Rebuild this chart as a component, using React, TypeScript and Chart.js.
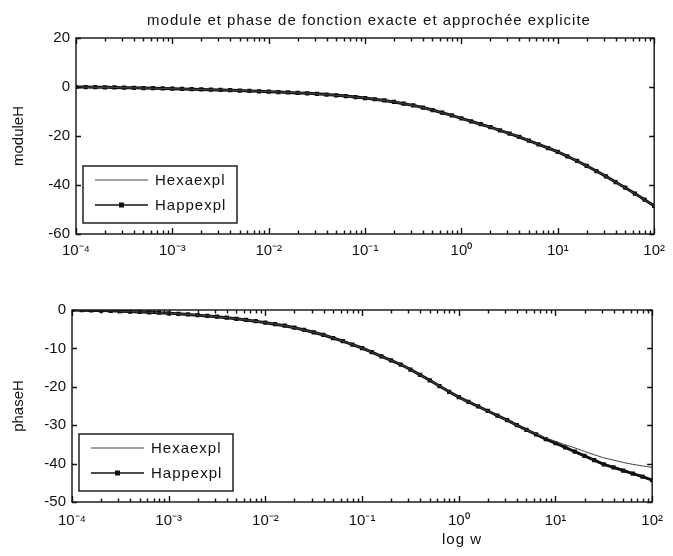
import { useEffect, useRef } from 'react';
import { Chart, registerables } from 'chart.js';

Chart.register(...registerables);

// Sampled pulsations, as log10(w)
const logW = [
  -4.0, -3.9, -3.8, -3.7, -3.6, -3.5, -3.4, -3.3, -3.2, -3.1,
  -3.0, -2.9, -2.8, -2.7, -2.6, -2.5, -2.4, -2.3, -2.2, -2.1,
  -2.0, -1.9, -1.8, -1.7, -1.6, -1.5, -1.4, -1.3, -1.2, -1.1,
  -1.0, -0.9, -0.8, -0.7, -0.6, -0.5, -0.4, -0.3, -0.2, -0.1,
  0.0, 0.1, 0.2, 0.3, 0.4, 0.5, 0.6, 0.7, 0.8, 0.9,
  1.0, 1.1, 1.2, 1.3, 1.4, 1.5, 1.6, 1.7, 1.8, 1.9, 2.0,
];

// Module (dB)
const moduleHexaexpl = [
  0.0, -0.05, -0.1, -0.15, -0.2, -0.3, -0.35, -0.45, -0.5, -0.6,
  -0.7, -0.8, -0.9, -1.0, -1.1, -1.2, -1.3, -1.45, -1.6, -1.75,
  -1.9, -2.05, -2.2, -2.4, -2.6, -2.8, -3.1, -3.4, -3.7, -4.1,
  -4.5, -5.0, -5.5, -6.1, -6.8, -7.5, -8.4, -9.4, -10.5, -11.6,
  -12.8, -14.0, -15.2, -16.4, -17.7, -19.0, -20.4, -21.9, -23.4, -24.9,
  -26.5, -28.3, -30.2, -32.2, -34.3, -36.5, -38.8, -41.1, -43.5, -46.0, -48.5,
];
const moduleHappexpl = [
  0.0, -0.05, -0.1, -0.15, -0.2, -0.3, -0.35, -0.45, -0.5, -0.6,
  -0.7, -0.8, -0.9, -1.0, -1.1, -1.2, -1.3, -1.45, -1.6, -1.75,
  -1.9, -2.05, -2.2, -2.4, -2.6, -2.8, -3.1, -3.4, -3.7, -4.1,
  -4.5, -5.0, -5.5, -6.1, -6.8, -7.5, -8.4, -9.4, -10.5, -11.6,
  -12.8, -14.0, -15.2, -16.4, -17.7, -19.0, -20.4, -21.9, -23.4, -24.9,
  -26.5, -28.3, -30.2, -32.2, -34.3, -36.5, -38.8, -41.1, -43.5, -46.0, -48.5,
];

// Phase (degrees)
const phaseHexaexpl = [
  0.0, -0.05, -0.1, -0.15, -0.2, -0.3, -0.4, -0.5, -0.6, -0.7,
  -0.85, -1.0, -1.15, -1.35, -1.55, -1.75, -2.0, -2.3, -2.6, -2.9,
  -3.3, -3.7, -4.1, -4.6, -5.2, -5.8, -6.5, -7.3, -8.1, -9.0,
  -9.9, -11.0, -12.1, -13.1, -14.2, -15.5, -16.9, -18.3, -19.8, -21.3,
  -22.7, -23.9, -25.1, -26.3, -27.5, -28.7, -30.0, -31.2, -32.3, -33.3,
  -34.2, -35.1, -35.9, -36.8, -37.7, -38.5, -39.1, -39.7, -40.2, -40.6, -41.0,
];
const phaseHappexpl = [
  0.0, -0.05, -0.1, -0.15, -0.2, -0.3, -0.4, -0.5, -0.6, -0.7,
  -0.85, -1.0, -1.15, -1.35, -1.55, -1.75, -2.0, -2.3, -2.6, -2.9,
  -3.3, -3.7, -4.1, -4.6, -5.2, -5.8, -6.5, -7.3, -8.1, -9.0,
  -9.9, -11.0, -12.1, -13.1, -14.2, -15.5, -16.9, -18.3, -19.8, -21.3,
  -22.7, -23.9, -25.1, -26.3, -27.5, -28.7, -30.0, -31.2, -32.4, -33.6,
  -34.7, -35.8, -36.9, -38.0, -39.1, -40.2, -41.0, -41.8, -42.6, -43.4, -44.3,
];

const decadeTicks = [1e-4, 1e-3, 1e-2, 1e-1, 1, 10, 100];
const decadeLabels = ['10⁻⁴', '10⁻³', '10⁻²', '10⁻¹', '10⁰', '10¹', '10²'];
const moduleTicks = [20, 0, -20, -40, -60];
const phaseTicks = [0, -10, -20, -30, -40, -50];

const seriesNames = ['Hexaexpl', 'Happexpl'];
const titleText = 'module et phase de fonction exacte et approchée explicite';

const FONT = "'Liberation Sans', Arial, sans-serif";
const INK = '#111';

type Label = { text: string; x: number; y: number };
type Panel = {
  hex: number[];
  happ: number[];
  yTicks: number[];
  yTitle: string;
  padTop: number;
  padRight: number;
  yWidth: number;
  xHeight: number;
  xLabelPad: number;
  labels: Label[];
};

const toPoints = (vals: number[]) => vals.map((v, i) => ({ x: Math.pow(10, logW[i]), y: v }));

// Axes frame with inward ticks on all four sides
const framePlugin = {
  id: 'frame',
  afterDatasetsDraw(chart: any) {
    const { ctx, chartArea: a, scales } = chart;
    const xs = scales.x;
    const ys = scales.y;
    ctx.save();
    ctx.strokeStyle = INK;
    ctx.lineWidth = 1.4;
    ctx.strokeRect(a.left, a.top, a.right - a.left, a.bottom - a.top);
    ctx.beginPath();
    decadeTicks.forEach((d, i) => {
      const marks: [number, number][] = [[d, 6]];
      if (i < decadeTicks.length - 1) {
        for (let k = 2; k <= 9; k++) marks.push([k * d, 3.5]);
      }
      marks.forEach(([v, len]) => {
        const px = Math.round(xs.getPixelForValue(v)) + 0.5;
        ctx.moveTo(px, a.bottom);
        ctx.lineTo(px, a.bottom - len);
        ctx.moveTo(px, a.top);
        ctx.lineTo(px, a.top + len);
      });
    });
    ys.ticks.forEach((t: any) => {
      const py = Math.round(ys.getPixelForValue(t.value)) + 0.5;
      ctx.moveTo(a.left, py);
      ctx.lineTo(a.left + 5, py);
      ctx.moveTo(a.right, py);
      ctx.lineTo(a.right - 5, py);
    });
    ctx.stroke();
    ctx.restore();
  },
};

// Boxed legend in the lower-left corner of the axes
const boxLegendPlugin = {
  id: 'boxLegend',
  afterDraw(chart: any) {
    const { ctx, chartArea: a } = chart;
    const left = a.left + 7;
    const top = a.bottom - 68;
    const w = 154;
    const h = 57;
    ctx.save();
    ctx.fillStyle = '#fff';
    ctx.fillRect(left, top, w, h);
    ctx.strokeStyle = INK;
    ctx.lineWidth = 1.4;
    ctx.strokeRect(left, top, w, h);
    ctx.font = `15px ${FONT}`;
    ctx.letterSpacing = '1px';
    ctx.textBaseline = 'middle';
    ctx.textAlign = 'left';
    chart.data.datasets.forEach((ds: any, i: number) => {
      const y = top + 14 + i * 25;
      ctx.strokeStyle = ds.borderColor;
      ctx.lineWidth = ds.label === seriesNames[0] ? 1 : 1.5;
      ctx.beginPath();
      ctx.moveTo(left + 12, y);
      ctx.lineTo(left + 65, y);
      ctx.stroke();
      if (ds.pointRadius > 0) {
        ctx.fillStyle = ds.pointBackgroundColor;
        ctx.fillRect(left + 38.5 - 2.5, y - 2.5, 5, 5);
      }
      ctx.fillStyle = INK;
      ctx.fillText(ds.label, left + 72, y + 1);
    });
    ctx.restore();
  },
};

// Free text: figure title and x label
const textPlugin = {
  id: 'freeText',
  afterDraw(chart: any, _args: any, opts: any) {
    const { ctx } = chart;
    ctx.save();
    ctx.fillStyle = INK;
    ctx.font = `15px ${FONT}`;
    ctx.letterSpacing = '1px';
    ctx.textAlign = 'center';
    ctx.textBaseline = 'middle';
    (opts.labels || []).forEach((l: Label) => ctx.fillText(l.text, l.x, l.y));
    ctx.restore();
  },
};

function buildConfig(p: Panel): any {
  return {
    type: 'line',
    data: {
      datasets: [
        {
          label: seriesNames[0],
          data: toPoints(p.hex),
          borderColor: '#444',
          borderWidth: 1,
          pointRadius: 0,
          tension: 0,
        },
        {
          label: seriesNames[1],
          data: toPoints(p.happ),
          borderColor: INK,
          borderWidth: 3,
          pointStyle: 'rect',
          pointRadius: 3,
          pointBorderWidth: 0,
          pointBackgroundColor: INK,
          pointBorderColor: INK,
          tension: 0,
        },
      ],
    },
    options: {
      responsive: false,
      animation: false,
      devicePixelRatio: 1,
      layout: { padding: { top: p.padTop, right: p.padRight, left: 0, bottom: 0 } },
      plugins: {
        legend: { display: false },
        tooltip: { enabled: false },
        freeText: { labels: p.labels },
      },
      scales: {
        x: {
          type: 'logarithmic',
          min: 1e-4,
          max: 1e2,
          grid: { display: false, drawTicks: false },
          border: { display: false },
          afterBuildTicks: (s: any) => {
            s.ticks = decadeTicks.map((v) => ({ value: v }));
          },
          afterFit: (s: any) => {
            s.height = p.xHeight;
          },
          ticks: {
            autoSkip: false,
            maxRotation: 0,
            padding: p.xLabelPad,
            color: INK,
            font: { family: FONT, size: 15 },
            callback: (_v: any, i: number) => decadeLabels[i],
          },
        },
        y: {
          min: p.yTicks[p.yTicks.length - 1],
          max: p.yTicks[0],
          grid: { display: false, drawTicks: false },
          border: { display: false },
          afterBuildTicks: (s: any) => {
            s.ticks = p.yTicks.map((v) => ({ value: v }));
          },
          afterFit: (s: any) => {
            s.width = p.yWidth;
          },
          ticks: {
            padding: 6,
            color: INK,
            font: { family: FONT, size: 15 },
          },
          title: {
            display: true,
            text: p.yTitle,
            color: INK,
            font: { family: FONT, size: 15 },
            padding: { top: 10, bottom: 0 },
          },
        },
      },
    },
    plugins: [framePlugin, boxLegendPlugin, textPlugin],
  };
}

const topPanel: Panel = {
  hex: moduleHexaexpl,
  happ: moduleHappexpl,
  yTicks: moduleTicks,
  yTitle: 'moduleH',
  padTop: 38,
  padRight: 11,
  yWidth: 76,
  xHeight: 44,
  xLabelPad: 8,
  labels: [{ text: titleText, x: 369, y: 21 }],
};

const bottomPanel: Panel = {
  hex: phaseHexaexpl,
  happ: phaseHappexpl,
  yTicks: phaseTicks,
  yTitle: 'phaseH',
  padTop: 32,
  padRight: 14,
  yWidth: 72,
  xHeight: 54,
  xLabelPad: 10,
  labels: [{ text: 'log w', x: 462, y: 262 }],
};

function PanelChart({ panel, top }: { panel: Panel; top: number }) {
  const ref = useRef<HTMLCanvasElement | null>(null);
  useEffect(() => {
    if (!ref.current) return;
    const chart = new Chart(ref.current, buildConfig(panel));
    return () => chart.destroy();
  }, [panel]);
  return (
    <canvas
      ref={ref}
      width={673}
      height={278}
      style={{ position: 'absolute', left: 0, top, width: 673, height: 278 }}
    />
  );
}

export default function App() {
  return (
    <div style={{ position: 'fixed', left: 0, top: 0, width: 673, height: 556, background: '#fff' }}>
      <PanelChart panel={topPanel} top={0} />
      <PanelChart panel={bottomPanel} top={278} />
    </div>
  );
}
